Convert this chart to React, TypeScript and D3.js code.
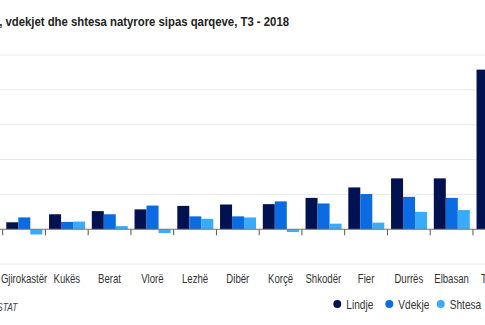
import React from "react";
import * as d3 from "d3";

const categories = ["Gjirokastër", "Kukës", "Berat", "Vlorë", "Lezhë", "Dibër", "Korçë", "Shkodër", "Fier", "Durrës", "Elbasan", "Tiranë"];
const seriesNames = ["Lindje", "Vdekje", "Shtesa"];
const lindje = [100, 215, 260, 285, 335, 355, 360, 450, 600, 730, 730, 2290];
const vdekje = [170, 105, 215, 340, 185, 185, 400, 370, 505, 465, 450, 1150];
const shtesa = [-75, 110, 45, -55, 150, 170, -40, 80, 95, 250, 275, 1140];
const yTicks = [-500, 0, 500, 1000, 1500, 2000, 2500];
const colors = ["#02114f", "#0a6be3", "#38acfb"];
const title = "Lindjet, vdekjet dhe shtesa natyrore sipas qarqeve, T3 - 2018";
const source = "Burimi: INSTAT";

const W = 485, H = 325;
const FONT = "'Liberation Sans', Arial, sans-serif";
const SX = 0.8;

export default function App() {
  const x = d3.scaleBand<string>().domain(categories).range([2.7, 2.7 + 42.75 * categories.length]).padding(0);
  const xi = d3.scaleBand<string>().domain(seriesNames).range([3.6, 39.6]).padding(0);
  const y = d3.scaleLinear().domain([-500, 2500]).range([264.1, 55]);
  const values = [lindje, vdekje, shtesa];
  const boundaries = d3.range(categories.length + 1).map((i) => 2.7 + i * x.bandwidth());

  const legendX = [337.3, 389.3, 440.7];

  return (
    <svg width={W} height={H} style={{ position: "absolute", left: 0, top: 0, background: "#fff" }}>
      <rect width={W} height={H} fill="#fff" />
      <text x={-38} y={26} fontFamily={FONT} fontWeight="bold" fontSize={13} fill="#222" textLength={327} lengthAdjust="spacingAndGlyphs">{title}</text>
      {yTicks.filter((t) => t !== 0).map((t) => (
        <line key={t} x1={0} x2={W} y1={y(t)} y2={y(t)} stroke="#e8e8e8" strokeWidth={1} />
      ))}
      {values.map((vals, si) =>
        categories.map((c, ci) => {
          const v = vals[ci];
          const x0 = (x(c) as number) + (xi(seriesNames[si]) as number);
          return (
            <rect key={si + "-" + ci} x={x0} width={xi.bandwidth()} y={Math.min(y(v), y(0))} height={Math.abs(y(v) - y(0))} fill={colors[si]} />
          );
        })
      )}
      <line x1={0} x2={W} y1={y(0)} y2={y(0)} stroke="#777" strokeWidth={1} />
      {boundaries.map((b, i) => (
        <line key={i} x1={b} x2={b} y1={y(0)} y2={y(0) + 6} stroke="#555" strokeWidth={1} />
      ))}
      {categories.map((c) => (
        <g key={c} transform={`translate(${(x(c) as number) + x.bandwidth() / 2},283) scale(${SX},1)`}>
          <text x={0} y={0} textAnchor="middle" fontFamily={FONT} fontSize={12} fill="#333">{c}</text>
        </g>
      ))}
      {seriesNames.map((s, i) => (
        <g key={s}>
          <circle cx={legendX[i]} cy={304} r={4} fill={colors[i]} />
          <g transform={`translate(${legendX[i] + 9},308.5) scale(0.78,1)`}>
            <text x={0} y={0} fontFamily={FONT} fontSize={13} fill="#333">{s}</text>
          </g>
        </g>
      ))}
      <g transform="translate(17.5,311) scale(0.85,1)">
        <text x={0} y={0} textAnchor="end" fontFamily={FONT} fontStyle="italic" fontSize={10} fill="#444">{source}</text>
      </g>
    </svg>
  );
}
